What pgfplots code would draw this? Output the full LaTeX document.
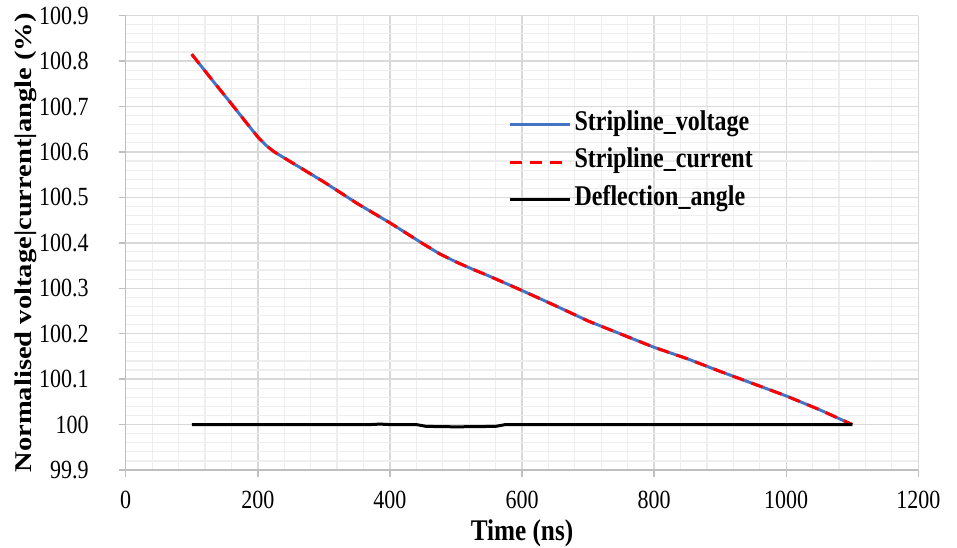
\documentclass[border=0pt]{standalone}
\usepackage{pgfplots}
\pgfplotsset{compat=1.18}
\usepackage{fontspec}
\setmainfont{Liberation Serif}
\definecolor{vblue}{RGB}{68,114,196}
\definecolor{gridmaj}{RGB}{217,217,217}
\definecolor{gridmin}{RGB}{238,238,238}
\definecolor{axgrey}{RGB}{191,191,191}
\begin{document}
\begin{tikzpicture}
\useasboundingbox (-62.85pt,-38.5pt) rectangle (415.65pt,235pt);
\begin{axis}[
  at={(0,0)}, anchor=south west,
  scale only axis, width=396.3pt, height=227.2pt,
  xmin=0, xmax=1200, ymin=99.9, ymax=100.9,
  axis x line*=bottom, axis y line*=left,
  axis line style={-, axgrey, line width=0.7pt},
  xtick={0,200,400,600,800,1000,1200},
  xticklabels={0,200,400,600,800,1000,1200},
  ytick={99.9,100,100.1,100.2,100.3,100.4,100.5,100.6,100.7,100.8,100.9},
  yticklabels={99.9,100,100.1,100.2,100.3,100.4,100.5,100.6,100.7,100.8,100.9},
  minor x tick num=4, minor y tick num=4,
  grid=both,
  major grid style={gridmaj, line width=0.7pt},
  minor grid style={gridmin, line width=0.6pt},
  tick align=outside, major tick length=3.5pt, minor tick length=0pt,
  tick style={axgrey, line width=0.7pt},
  /pgf/number format/assume math mode=true,
  tick label style={font=\fontsize{11}{13}\selectfont, yscale=1.19},
  xticklabel style={anchor=center, yshift=-9.5pt},
  yticklabel style={anchor=east, xshift=-11.5pt},
  xlabel={\scalebox{1}[1.19]{\fontsize{12.6}{14}\selectfont\bfseries Time (ns)}},
  ylabel={\scalebox{1.19}[1]{\fontsize{12}{14}\selectfont\bfseries Normalised voltage|current|angle (\%)}},
  xlabel style={at={(axis description cs:0.5,-0.1386)}, anchor=center},
  ylabel style={at={(axis description cs:-0.1262,0.5)}, anchor=center},
  legend cell align=left,
  legend image code/.code={\draw[#1] (0pt,0pt) -- (30pt,0pt);},
  legend style={draw=none, fill=none, at={(axis description cs:0.4825,0.8015)}, anchor=north west,
    inner sep=0pt, row sep=0pt, column sep=1.5pt,
    nodes={inner sep=0pt, text height=12pt, text depth=6.75pt}},
]
\addplot[vblue, line width=1.5pt] coordinates {
(100,100.815) (130,100.760) (160,100.706) (185,100.660) (200,100.633) (212,100.615) (225,100.600)
(250,100.578) (300,100.534) (350,100.487)
(400,100.444) (450,100.398) (475,100.376) (500,100.358) (525,100.342) (550,100.327) (600,100.295) (650,100.262)
(700,100.228) (750,100.199) (800,100.170) (850,100.145) (900,100.117) (950,100.090)
(1000,100.063) (1050,100.033) (1100,100.000)};
\addlegendentry{\scalebox{1}[1.19]{\fontsize{12}{14}\selectfont\bfseries Stripline\_voltage}}
\addplot[red, line width=1.5pt, dash pattern=on 6pt off 4pt] coordinates {
(100,100.815) (130,100.760) (160,100.706) (185,100.660) (200,100.633) (212,100.615) (225,100.600)
(250,100.578) (300,100.534) (350,100.487)
(400,100.444) (450,100.398) (475,100.376) (500,100.358) (525,100.342) (550,100.327) (600,100.295) (650,100.262)
(700,100.228) (750,100.199) (800,100.170) (850,100.145) (900,100.117) (950,100.090)
(1000,100.063) (1050,100.033) (1100,100.000)};
\addlegendentry{\scalebox{1}[1.19]{\fontsize{12}{14}\selectfont\bfseries Stripline\_current}}
\addplot[black, line width=1.5pt] coordinates {
(100,100) (370,100) (385,100.001) (400,100) (440,100) (455,99.996) (500,99.995)
(560,99.996) (575,100) (700,100) (900,100) (1100,100)};
\addlegendentry{\scalebox{1}[1.19]{\fontsize{12}{14}\selectfont\bfseries Deflection\_angle}}
\end{axis}
\end{tikzpicture}
\end{document}
